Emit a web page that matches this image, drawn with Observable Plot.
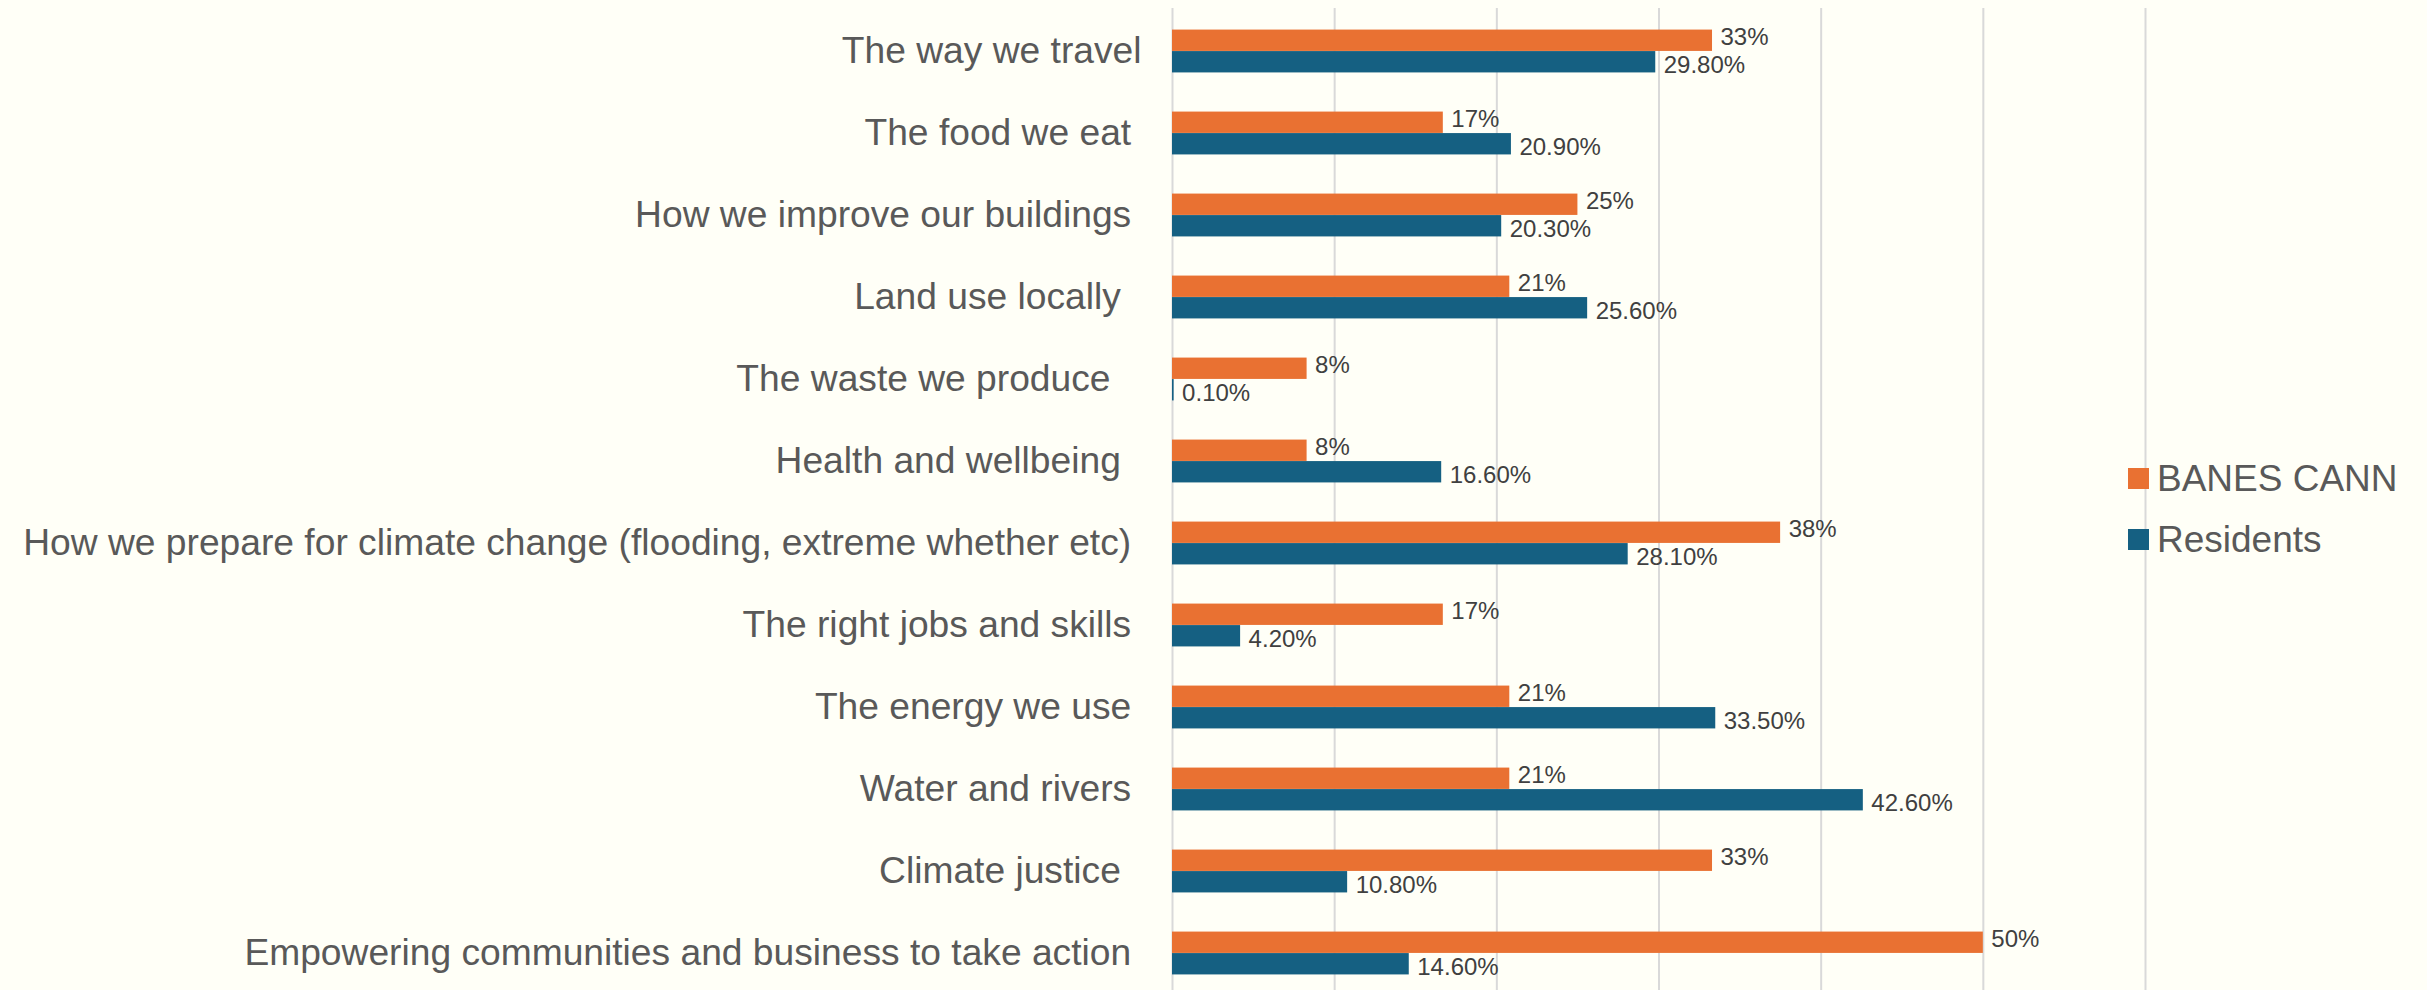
<!DOCTYPE html>
<html>
<head>
<meta charset="utf-8">
<script src="https://cdn.jsdelivr.net/npm/d3@7"></script>
<script src="https://cdn.jsdelivr.net/npm/@observablehq/plot@0.6"></script>
<style>
html, body { margin: 0; padding: 0; background: #fffff7; }
#wrap { position: relative; width: 2427px; height: 990px; font-family: "Liberation Sans", Arial, sans-serif; background: #fffff7; }
#wrap svg text { white-space: pre; }
.legend { position: absolute; left: 2128px; top: 448px; }
.item { display: flex; align-items: center; height: 61px; font-size: 37px; color: #595959; white-space: nowrap; }
.sw { width: 21px; height: 21px; margin-right: 8px; flex: none; }
</style>
</head>
<body>
<div id="wrap"></div>
<script>
const categories = [
  "The way we travel",
  "The food we eat ",
  "How we improve our buildings ",
  "Land use locally  ",
  "The waste we produce   ",
  "Health and wellbeing  ",
  "How we prepare for climate change (flooding, extreme whether etc) ",
  "The right jobs and skills ",
  "The energy we use ",
  "Water and rivers ",
  "Climate justice  ",
  "Empowering communities and business to take action "
];
const series = ["BANES CANN", "Residents"];
const banesValues = [33.3, 16.7, 25, 20.8, 8.3, 8.3, 37.5, 16.7, 20.8, 20.8, 33.3, 50];
const banesLabels = ["33%", "17%", "25%", "21%", "8%", "8%", "38%", "17%", "21%", "21%", "33%", "50%"];
const residentValues = [29.8, 20.9, 20.3, 25.6, 0.1, 16.6, 28.1, 4.2, 33.5, 42.6, 10.8, 14.6];
const xTicks = [0, 10, 20, 30, 40, 50, 60];
const seriesColors = ["#E97132", "#156082"];

const banesRows = categories.map((c, i) => ({category: c, series: series[0], value: banesValues[i], label: banesLabels[i]}));
const residentRows = categories.map((c, i) => ({category: c, series: series[1], value: residentValues[i], label: d3.format(".2f")(residentValues[i]) + "%"}));

const yTop = 8.9, yBottom = 994.7;
const step = (yBottom - yTop) / categories.length;
const half = step / 2;
const barH = 21.5;
const labelGap = 3;

const chart = Plot.plot({
  width: 2427,
  height: 990,
  marginLeft: 1172,
  marginRight: 282,
  marginTop: 8,
  marginBottom: 0,
  style: {background: "transparent", fontFamily: "'Liberation Sans', Arial, sans-serif", fontSize: "37.2px", color: "#595959", overflow: "visible"},
  x: {domain: [0, 60], axis: null},
  y: {domain: categories, range: [yTop, yBottom], padding: 0, tickSize: 0, tickPadding: 31, label: null},
  color: {domain: series, range: seriesColors},
  marks: [
    Plot.ruleX(xTicks, {stroke: "#d9d9d9", strokeWidth: 2}),
    Plot.barX(banesRows, {x: "value", y: "category", fill: "series", insetTop: half - barH, insetBottom: half}),
    Plot.barX(residentRows, {x: "value", y: "category", fill: "series", insetTop: half, insetBottom: half - barH}),
    Plot.text(banesRows, {x: "value", y: "category", text: "label", textAnchor: "start", dx: 8, dy: -barH / 2 - labelGap, fontSize: 24, fill: "#404040"}),
    Plot.text(residentRows, {x: "value", y: "category", text: "label", textAnchor: "start", dx: 8, dy: barH / 2 + labelGap, fontSize: 24, fill: "#404040"})
  ]
});

const wrap = document.getElementById("wrap");
wrap.appendChild(chart);

const legend = document.createElement("div");
legend.className = "legend";
series.forEach((s, i) => {
  const item = document.createElement("div");
  item.className = "item";
  const sw = document.createElement("span");
  sw.className = "sw";
  sw.style.background = seriesColors[i];
  const lab = document.createElement("span");
  lab.textContent = s;
  item.appendChild(sw);
  item.appendChild(lab);
  legend.appendChild(item);
});
wrap.appendChild(legend);
</script>
</body>
</html>
